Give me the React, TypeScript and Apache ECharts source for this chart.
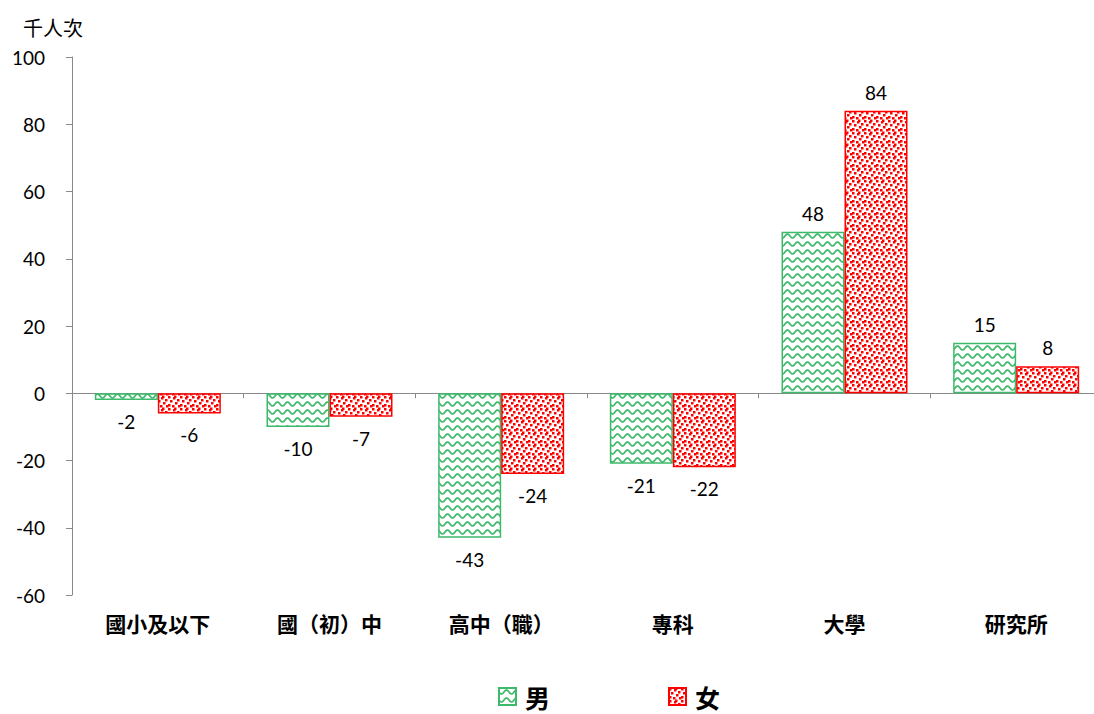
import React, { useEffect, useRef } from "react";
import * as echarts from "echarts";

const categories = ["國小及以下", "國（初）中", "高中（職）", "專科", "大學", "研究所"];
const maleValues = [-2, -10, -43, -21, 48, 15];
const femaleValues = [-6, -7, -24, -22, 84, 8];
const yTicks = { min: -60, max: 100, interval: 20 };
const seriesNames = ["男", "女"];
const unitLabel = "千人次";

function wavePattern(): string {
  const c = document.createElement("canvas");
  c.width = 10;
  c.height = 8;
  const ctx = c.getContext("2d")!;
  ctx.fillStyle = "#ffffff";
  ctx.fillRect(0, 0, 10, 8);
  ctx.strokeStyle = "#3cb96a";
  ctx.lineWidth = 1.7;
  for (const off of [-8, 0, 8]) {
    ctx.beginPath();
    for (let x = -1; x <= 11; x += 0.5) {
      const y = off + 4 + 2 * Math.sin((2 * Math.PI * x) / 10);
      if (x === -1) ctx.moveTo(x, y);
      else ctx.lineTo(x, y);
    }
    ctx.stroke();
  }
  return c.toDataURL();
}

function dotPattern(): string {
  const c = document.createElement("canvas");
  c.width = 12;
  c.height = 12;
  const ctx = c.getContext("2d")!;
  ctx.fillStyle = "#ffffff";
  ctx.fillRect(0, 0, 12, 12);
  ctx.fillStyle = "#ff0000";
  const dots = [
    [0, 0], [5, 1], [9, 3], [2, 4], [7, 6], [0, 8], [4, 9], [10, 9], [6, 11.5]
  ];
  for (const [x, y] of dots) {
    ctx.fillRect(x, y, 2.5, 2.5);
    if (x > 9.5) ctx.fillRect(x - 12, y, 2.5, 2.5);
    if (y > 9.5) ctx.fillRect(x, y - 12, 2.5, 2.5);
  }
  return c.toDataURL();
}

export default function App() {
  const ref = useRef<HTMLDivElement>(null);
  useEffect(() => {
    document.body.style.margin = "0";
    document.body.style.overflow = "hidden";
    const chart = echarts.init(ref.current!, undefined, { renderer: "svg" });
    const wave = { image: wavePattern(), repeat: "repeat" };
    const dots = { image: dotPattern(), repeat: "repeat" };
    const mkData = (vals: number[]) =>
      vals.map((v) => ({
        value: v,
        label: { position: v < 0 ? "bottom" : "top", distance: v < 0 ? 12 : 9 },
      }));
    const labelStyle = {
      show: true,
      color: "#000",
      fontFamily: "Lato",
      fontSize: 19,
      formatter: "{c}",
    };
    chart.setOption({
      animation: false,
      title: {
        text: unitLabel,
        left: 18,
        top: 12,
        textStyle: { fontSize: 20, fontWeight: "normal", color: "#000", fontFamily: "Noto Sans CJK TC" },
      },
      grid: { left: 72, top: 57, width: 1030, height: 538 },
      legend: {
        data: seriesNames,
        left: 498,
        top: 684,
        padding: 0,
        icon: "rect",
        itemWidth: 17,
        itemHeight: 17,
        itemGap: 118,
        textStyle: {
          fontSize: 25,
          lineHeight: 25,
          fontWeight: "bold",
          color: "#000",
          fontFamily: "Noto Sans CJK TC",
          padding: [0, 0, 0, 4],
        },
      },
      xAxis: [
        {
          type: "category",
          data: categories,
          position: "bottom",
          axisLine: { show: false, onZero: false },
          axisTick: { show: false },
          axisLabel: {
            margin: 17,
            color: "#000",
            fontSize: 21,
            fontWeight: "bold",
            fontFamily: "Noto Sans CJK TC",
          },
        },
        {
          type: "category",
          data: categories,
          position: "bottom",
          axisLine: { show: true, onZero: true, lineStyle: { color: "#898989", width: 1 } },
          axisTick: { show: true, length: 5, lineStyle: { color: "#898989" } },
          axisLabel: { show: false },
        },
      ],
      yAxis: {
        type: "value",
        min: yTicks.min,
        max: yTicks.max,
        interval: yTicks.interval,
        axisLine: { show: true, lineStyle: { color: "#898989" } },
        axisTick: { show: true, length: 6, lineStyle: { color: "#898989" } },
        splitLine: { show: false },
        axisLabel: { margin: 27, color: "#000", fontSize: 19, fontFamily: "Lato" },
      },
      series: [
        {
          name: seriesNames[0],
          type: "bar",
          xAxisIndex: 0,
          data: mkData(maleValues),
          barWidth: 63,
          barGap: "0%",
          itemStyle: { color: wave, borderColor: "#3cb96a", borderWidth: 1.5 },
          label: labelStyle,
        },
        {
          name: seriesNames[1],
          type: "bar",
          xAxisIndex: 0,
          data: mkData(femaleValues),
          barWidth: 63,
          barGap: "0%",
          itemStyle: { color: dots, borderColor: "#ff0000", borderWidth: 1.5 },
          label: labelStyle,
        },
      ],
    });
    return () => chart.dispose();
  }, []);
  return (
    <div style={{ width: 1094, height: 714, overflow: "hidden", position: "relative" }}>
      <div ref={ref} style={{ width: 1110, height: 714 }} />
    </div>
  );
}
